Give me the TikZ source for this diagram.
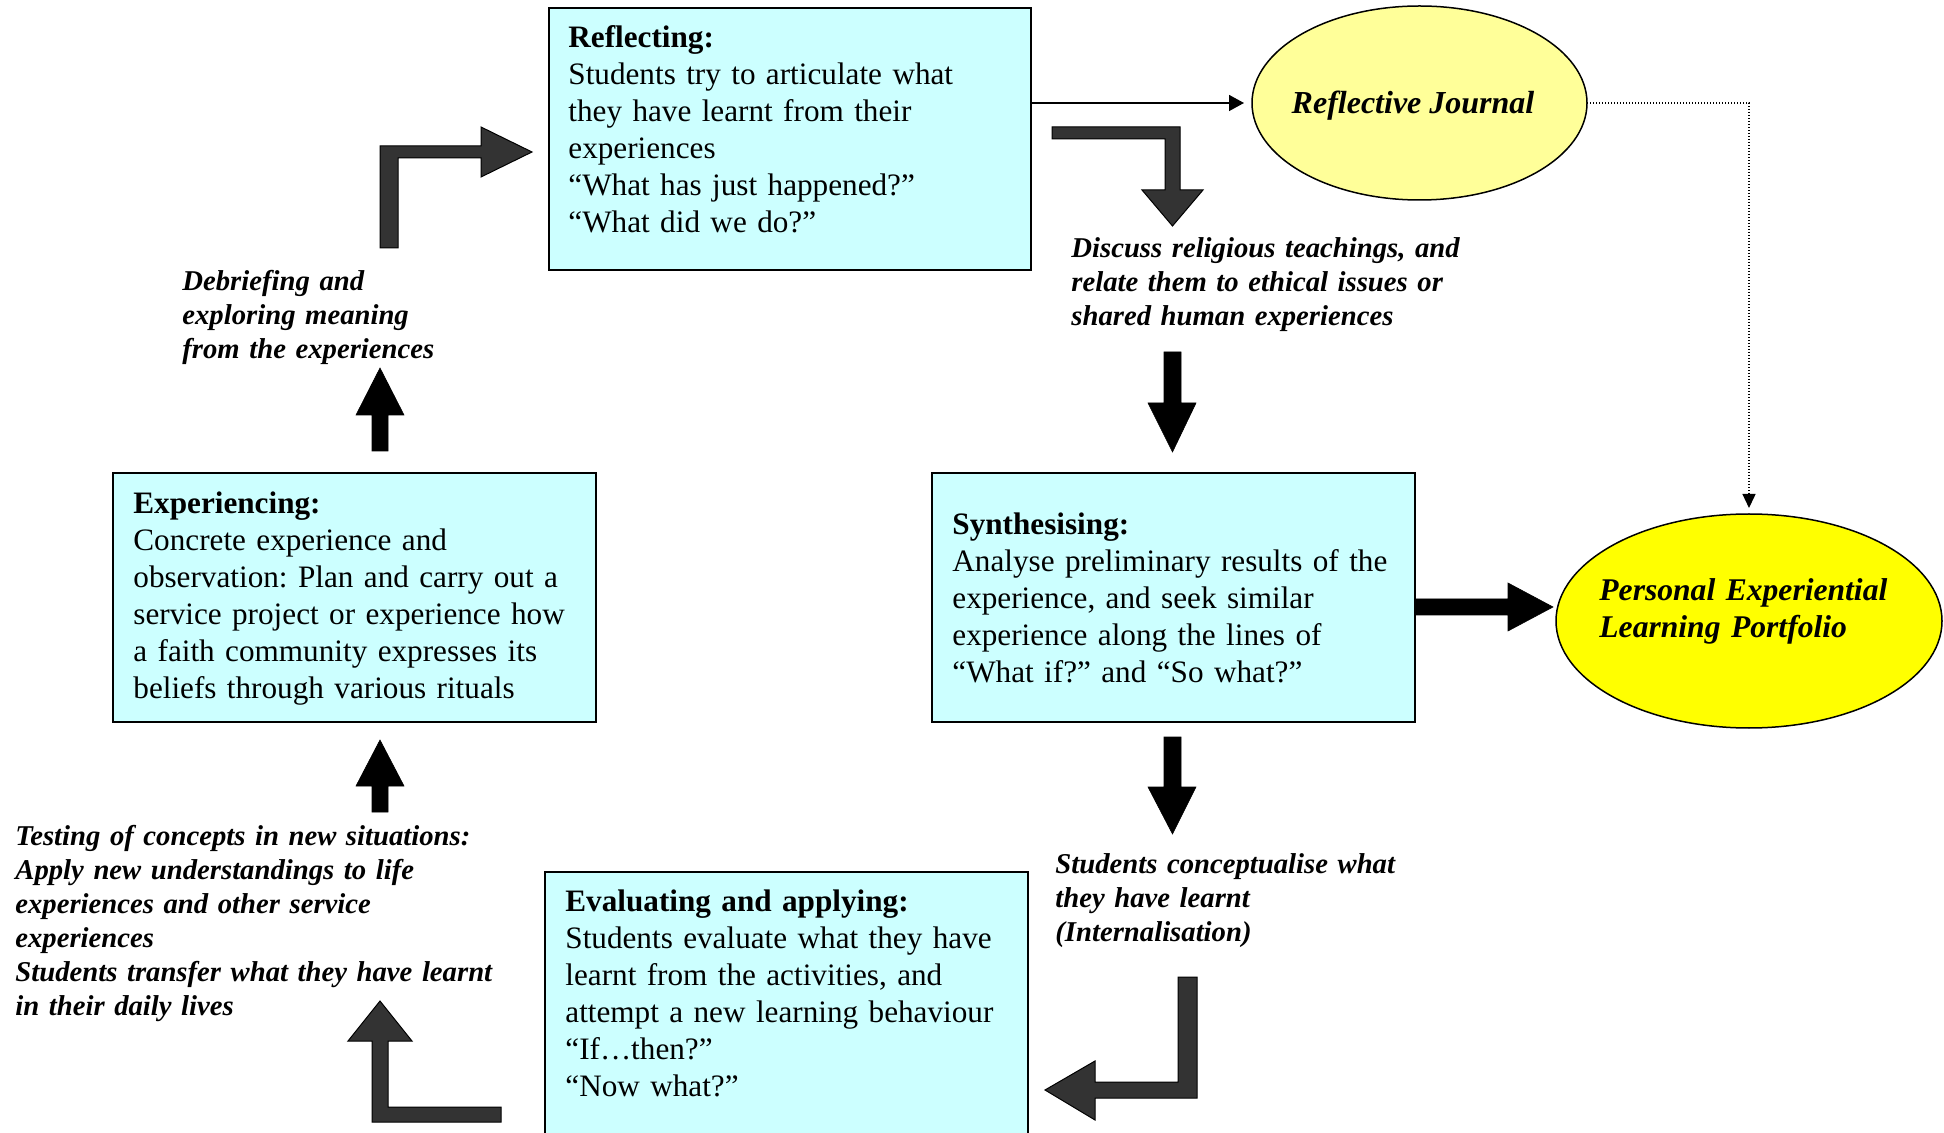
\documentclass[tikz,border=0pt]{standalone}
\usepackage{fontspec}
\setmainfont{Liberation Serif}
\usetikzlibrary{arrows.meta,shapes.geometric}
\definecolor{boxcyan}{HTML}{CCFFFF}
\definecolor{rjyellow}{HTML}{FFFF99}
\definecolor{pfyellow}{HTML}{FFFF00}
\definecolor{bentgray}{HTML}{333333}
\frenchspacing
\begin{document}
\begin{tikzpicture}[x=0.5pt,y=-0.5pt,
  stagebox/.style={draw=black, fill=boxcyan, line width=1pt, rectangle, inner sep=0pt, outer sep=0pt},
  ovalbox/.style={draw=black, line width=0.75pt, ellipse, inner sep=0pt, outer sep=0pt},
  boxtxt/.style={anchor=north west, inner sep=0pt, text width=240pt, align=left,
                 font=\fontsize{15.6pt}{18.5pt}\selectfont},
  lbltxt/.style={anchor=north west, inner sep=0pt, text width=300pt, align=left,
                 font=\fontsize{14.35pt}{17pt}\selectfont\bfseries\itshape},
  bentarrow/.style={fill=bentgray, draw=black, line width=0.5pt, line join=miter},
  blockarrow/.style={fill=black, draw=black, line width=0.3pt},
  thinarrow/.style={draw=black, line width=0.75pt, -{Triangle[length=7.5pt,width=8pt]}},
  dotarrow/.style={draw=black, line width=0.7pt, dash pattern=on 0.7pt off 0.8pt,
                   -{Triangle[length=7pt,width=6.5pt]}}
]
\useasboundingbox (0,0) rectangle (1944,1133);

% stage boxes
\node[stagebox, minimum width=241pt, minimum height=131pt] (refl) at (790,139) {};
\node[stagebox, minimum width=241.5pt, minimum height=124.5pt] (exper) at (354.5,597.5) {};
\node[stagebox, minimum width=241.5pt, minimum height=124.5pt] (synth) at (1173.5,597.5) {};
\node[stagebox, minimum width=241.5pt, minimum height=154pt] (eval) at (786.5,1026) {};

% ellipses
\node[ovalbox, fill=rjyellow, minimum width=167.5pt, minimum height=97pt] (rj) at (1419.5,103) {};
\node[font=\fontsize{16pt}{18.5pt}\selectfont\bfseries\itshape, inner sep=0pt] (rjT) at (1413,106)
      {Reflective Journal};
\node[ovalbox, fill=pfyellow, minimum width=193pt, minimum height=107pt] (pf) at (1749,621) {};

% box texts
\node[boxtxt] (reflT) at (568,21.1) {\strut\textbf{Reflecting:}\\
Students try to articulate what\\
they have learnt from their\\
experiences\\
“What has just happened?”\\
“What did we do?”};
\node[boxtxt] (experT) at (133,487.1) {\strut\textbf{Experiencing:}\\
Concrete experience and\\
observation: Plan and carry out a\\
service project or experience how\\
a faith community expresses its\\
beliefs through various rituals};
\node[boxtxt] (synthT) at (952,508.1) {\strut\textbf{Synthesising:}\\
Analyse preliminary results of the\\
experience, and seek similar\\
experience along the lines of\\
“What if?” and “So what?”};
\node[boxtxt] (evalT) at (565,885.1) {\strut\textbf{Evaluating and applying:}\\
Students evaluate what they have\\
learnt from the activities, and\\
attempt a new learning behaviour\\
“If…then?”\\
“Now what?”};
\node[boxtxt, font=\fontsize{15.8pt}{18.5pt}\selectfont\bfseries\itshape] (pfT) at (1599,574.1)
  {\strut Personal Experiential\\Learning Portfolio};

% labels
\node[lbltxt] (debT) at (182,266.2) {\strut Debriefing and\\exploring meaning\\from the experiences};
\node[lbltxt] (discT) at (1071,233.2) {\strut Discuss religious teachings, and\\relate them to ethical issues or\\shared human experiences};
\node[lbltxt] (concT) at (1055,849.2) {\strut Students conceptualise what\\they have learnt\\(Internalisation)};
\node[lbltxt] (testT) at (15,821.2) {\strut Testing of concepts in new situations:\\
Apply new understandings to life\\
experiences and other service\\
experiences\\
Students transfer what they have learnt\\
in their daily lives};

% thin connectors
\draw[thinarrow, shorten >=4pt] (refl.east |- rj.west) -- (rj.west);
\draw[dotarrow, shorten >=3pt] (rj.east) -| (pf.north);

% bent block arrows
\path[bentarrow] (380,248) -- (380,146) -- (481,146) -- (481,127) -- (532,152) -- (481,177)
  -- (481,158) -- (398,158) -- (398,248) -- cycle;
\path[bentarrow] (1052,127) -- (1180,127) -- (1180,190) -- (1203,190) -- (1172.5,226)
  -- (1142,190) -- (1165,190) -- (1165,139) -- (1052,139) -- cycle;
\path[bentarrow] (1178,977) -- (1197,977) -- (1197,1098) -- (1095,1098) -- (1095,1120)
  -- (1045,1090) -- (1095,1061) -- (1095,1082) -- (1178,1082) -- cycle;
\path[bentarrow] (501,1107) -- (501,1122) -- (372,1122) -- (372,1041) -- (348,1041)
  -- (380,1001) -- (412,1041) -- (388,1041) -- (388,1107) -- cycle;

% straight block arrows
\path[blockarrow] (1164,352) -- (1181,352) -- (1181,403) -- (1196,403) -- (1172.5,452)
  -- (1148,403) -- (1164,403) -- cycle;
\path[blockarrow] (1164,737) -- (1181,737) -- (1181,787) -- (1196,787) -- (1172.5,834)
  -- (1148,787) -- (1164,787) -- cycle;
\path[blockarrow] (372,451) -- (372,415) -- (356,415) -- (380,368) -- (404,415)
  -- (388,415) -- (388,451) -- cycle;
\path[blockarrow] (372,812) -- (372,786) -- (356,786) -- (380,740) -- (404,786)
  -- (388,786) -- (388,812) -- cycle;
\path[blockarrow] (synth.east |- 0,599) -- (1508,599) -- (1508,583) -- (1553,607)
  -- (1508,631) -- (1508,615) -- (synth.east |- 0,615) -- cycle;
\end{tikzpicture}
\end{document}
